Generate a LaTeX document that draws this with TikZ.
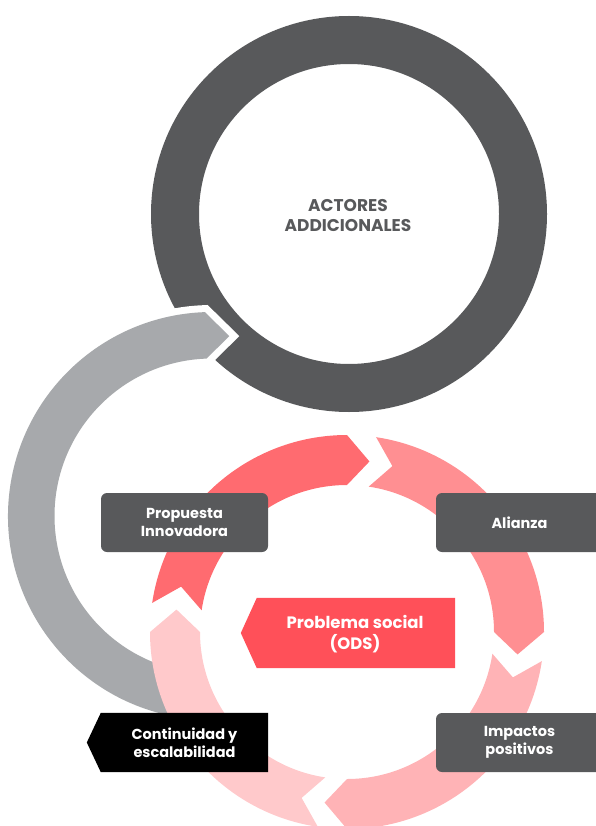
\documentclass[tikz,border=0pt]{standalone}
\usepackage{fontspec}
\setmainfont{Poppins}
\usetikzlibrary{calc}
\definecolor{ringdark}{HTML}{58595B}
\definecolor{arcgray}{HTML}{A7A9AC}
\definecolor{segA}{HTML}{FF6B70}
\definecolor{segB}{HTML}{FF8F92}
\definecolor{segC}{HTML}{FFB3B6}
\definecolor{segD}{HTML}{FFC9CB}
\definecolor{coral}{HTML}{FF5059}

% Curved arrow piece of a ring: start angle, end angle, outer radius,
% inner radius, tip length (deg), tail notch depth (deg)
\newcommand{\ringpiece}[6]{%
  (#1:#3) arc[start angle=#1, end angle=#2, radius=#3]
  -- ({#2+#5}:{(#3+#4)/2}) -- (#2:#4)
  arc[start angle=#2, end angle=#1, radius=#4]
  -- ({#1+#6}:{(#3+#4)/2}) -- cycle}

\begin{document}
\begin{tikzpicture}[x=1pt, y=-1pt,
  tag/.style={text=white, font=\bfseries\fontsize{14.5}{18}\selectfont, align=center},
  tagbox/.style={fill=ringdark, rounded corners=6pt, minimum width=167pt,
    minimum height=59pt, inner sep=0pt},
  frame/.style={minimum width=#1, minimum height=59pt, inner sep=0pt}]
\useasboundingbox (0,0) rectangle (595,826);

% ring of additional actors
\fill[ringdark, even odd rule] (349,214) circle[radius=198] (349,214) circle[radius=150];
\node[font=\bfseries\fontsize{17}{20}\selectfont, text=ringdark, align=center]
  (actors) at (348,216) {ACTORES\\ADDICIONALES};

% grey return arrow, cut out of the dark ring by a white halo
\begin{scope}[shift={(212,516)}]
  \filldraw[white, line width=14pt, line join=miter] \ringpiece{100}{268}{204}{157.5}{7.5}{0};
  \fill[arcgray] \ringpiece{100}{268}{204}{157.5}{7.5}{0};
\end{scope}

% four-step cycle
\begin{scope}[shift={(347,632)}]
  \fill[segA] \ringpiece{188.5}{270}{197}{147}{7.5}{6.8};
  \fill[segB] \ringpiece{278.5}{360}{197}{147}{7.5}{6.8};
  \fill[segC] \ringpiece{368.5}{450}{197}{147}{7.5}{6.8};
  \fill[segD] \ringpiece{458.5}{540}{197}{147}{7.5}{6.8};
\end{scope}

% step labels
\node[tagbox, tag] (propuesta) at (184.5,522.5) {Propuesta\\Innovadora};
\node[tagbox, tag] (alianza) at (519.5,522.5) {Alianza};
\node[tagbox, tag] (impactos) at (519.5,742.5) {Impactos\\positivos};

\path node[frame=167pt] (contframe) at (184.5,742.5) {};
\fill[black] (contframe.north east) -- (contframe.south east) -- (contframe.south west)
  -- ([xshift=-14pt]contframe.west) -- (contframe.north west) -- cycle;
\node[tag] (cont) at (contframe.center) {Continuidad y\\escalabilidad};

% central problem
\path node[minimum width=198pt, minimum height=70pt, inner sep=0pt] (probframe) at (356,633) {};
\fill[coral] (probframe.north east) -- (probframe.south east) -- (probframe.south west)
  -- ([xshift=-16pt]probframe.west) -- (probframe.north west) -- cycle;
\node[text=white, font=\bfseries\fontsize{16.5}{21}\selectfont, align=center]
  (problema) at (355,634) {Problema social\\(ODS)};
\end{tikzpicture}
\end{document}
